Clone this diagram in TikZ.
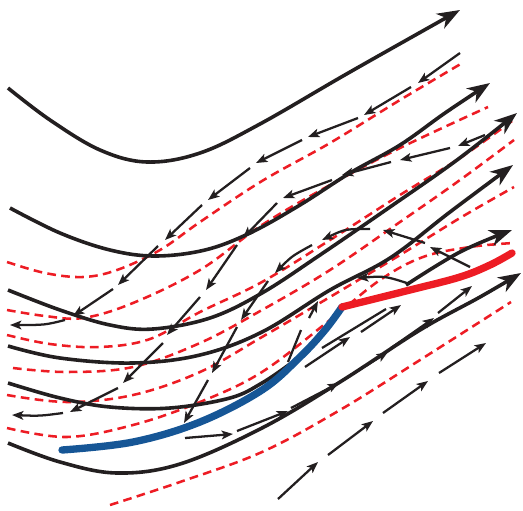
\documentclass[tikz,border=0pt]{standalone}
\usetikzlibrary{arrows.meta}
\definecolor{ink}{RGB}{35,31,32}
\definecolor{dred}{RGB}{237,28,36}
\definecolor{dblue}{RGB}{22,86,150}
\begin{document}
\begin{tikzpicture}[x=0.75pt,y=-0.75pt,
  field/.style={ink, line width=2.7pt},
  fieldarrow/.style={field, -{Stealth[length=17pt,width=12.5pt,inset=5pt]}},
  flow/.style={ink, line width=1.7pt, -{Stealth[length=8.5pt,width=6.5pt,inset=2pt]}},
  flowplain/.style={ink, line width=1.7pt},
  sep/.style={dred, line width=1.9pt, dash pattern=on 6.5pt off 4pt},
  bluefl/.style={dblue, line width=5.5pt, line cap=round},
  redfl/.style={dred, line width=5.5pt, line cap=round}]
\useasboundingbox (0,0) rectangle (523,510);
% red dashed lines
\draw[sep] plot[smooth,tension=0.6] coordinates {(7,262) (45,273) (83,277) (117,270) (160,250) (200,222) (262,181) (330,143) (400,100) (464,62)};
\draw[sep] plot[smooth,tension=0.6] coordinates {(7,310) (45,316) (83,318) (133,303) (200,270) (262,225) (330,185) (400,148) (488,107)};
\draw[sep] plot[smooth,tension=0.6] coordinates {(7,335) (50,344) (100,347) (150,339) (200,312) (262,282) (330,240) (400,195) (460,158) (512,121)};
\draw[sep] plot[smooth,tension=0.6] coordinates {(13,368) (67,372) (133,367) (200,343) (262,310) (330,270) (400,222) (460,180) (514,140)};
\draw[sep] plot[smooth,tension=0.6] coordinates {(7,395) (67,402) (133,395) (200,372) (262,337) (330,297) (400,255) (460,218) (514,187)};
\draw[sep] plot[smooth,tension=0.6] coordinates {(7,428) (67,437) (133,425) (200,402) (262,372) (330,320) (380,280) (423,257) (470,247) (513,243)};
\draw[sep] plot[smooth,tension=0.6] coordinates {(110,505) (180,482) (262,452) (340,410) (420,360) (511,302)};
% thick field lines
\draw[fieldarrow] plot[smooth,tension=0.6] coordinates {(8,88) (50,120) (100,150) (147,162) (200,153) (260,124) (350,72) (460,10)};
\draw[fieldarrow] plot[smooth,tension=0.6] coordinates {(10,208) (60,233) (110,250) (155,256) (205,250) (250,233) (300,205) (350,173) (400,145) (445,113) (490,83)};
\draw[fieldarrow] plot[smooth,tension=0.6] coordinates {(8,290) (60,310) (110,325) (153,329) (210,318) (262,293) (320,255) (390,207) (457,160) (517,113)};
\draw[fieldarrow] plot[smooth,tension=0.6] coordinates {(8,346) (60,358) (133,363) (200,355) (262,332) (330,290) (390,258) (450,212) (513,165)};
\draw[field] plot[smooth,tension=0.6] coordinates {(8,383) (60,398) (110,407) (170,408) (230,398) (262,383) (290,364)};
\draw[fieldarrow] plot[smooth,tension=0.6] coordinates {(8,443) (60,462) (117,473) (180,464) (262,428) (340,382) (420,330) (480,297) (521,273)};
\draw[fieldarrow] plot[smooth,tension=0.6] coordinates {(406,285) (460,252) (512,230)};
% flow line F1
\draw[flow] (460,53) -- (418,83);
\draw[flow] (411,87) -- (364,115);
\draw[flow] (358,118) -- (308,137);
\draw[flow] (302,140) -- (256,163);
\draw[flow] (250,168) -- (208,200);
\draw[flow] (202,205) -- (165,240);
\draw[flow] (158,246) -- (118,285);
\draw[flow] (113,289) -- (73,316);
\draw[flow] (65,320) .. controls (45,325) .. (10,325);
% flow line F2
\draw[flow] (485,135) -- (458,146);
\draw[flow] (450,148) -- (400,160);
\draw[flow] (391,162) -- (342,175);
\draw[flow] (332,180) -- (283,198);
\draw[flow] (277,203) -- (243,238);
\draw[flow] (237,245) -- (206,290);
\draw[flow] (200,297) -- (167,335);
\draw[flow] (163,343) -- (123,383);
\draw[flow] (118,388) -- (70,412);
\draw[flow] (63,413) .. controls (40,416) .. (12,415);
% flow line F3
\draw[flow] (470,267) -- (430,247);
\draw[flow] (425,243) -- (383,230);
\draw[flow] (370,229) .. controls (345,229) .. (322,240);
\draw[flow] (312,245) .. controls (292,256) .. (275,273);
\draw[flow] (268,281) -- (241,320);
\draw[flow] (237,327) -- (212,373);
\draw[flow] (208,380) -- (184,423);
% flow F4, F5
\draw[flow] (410,284) .. controls (385,276) .. (357,278);
\draw[flowplain] (288,362) -- (301,330);
\draw[flow] (309,318) -- (318,301);
% lower flow lines
\draw[flow] (278,499) -- (318,462);
\draw[flow] (328,455) -- (373,421);
\draw[flow] (383,413) -- (428,381);
\draw[flow] (439,373) -- (486,343);
\draw[flow] (185,438) -- (233,434);
\draw[flow] (237,431) -- (288,411);
\draw[flow] (291,408) -- (339,383);
\draw[flow] (343,380) -- (388,352);
\draw[flow] (391,348) -- (434,318);
\draw[flow] (438,313) -- (472,286);
\draw[flow] (305,367) -- (350,337);
\draw[flowplain] (322,348) -- (386,309);
\draw[flow] (361,332) -- (401,305);
% reconnected field line
\draw[bluefl] plot[smooth,tension=0.6] coordinates {(62,450) (133,442) (200,422) (262,390) (300,357) (325,330) (342,307)};
\draw[redfl] plot[smooth,tension=0.6] coordinates {(342,307) (410,290) (460,277) (490,265) (512,253)};
\end{tikzpicture}
\end{document}
